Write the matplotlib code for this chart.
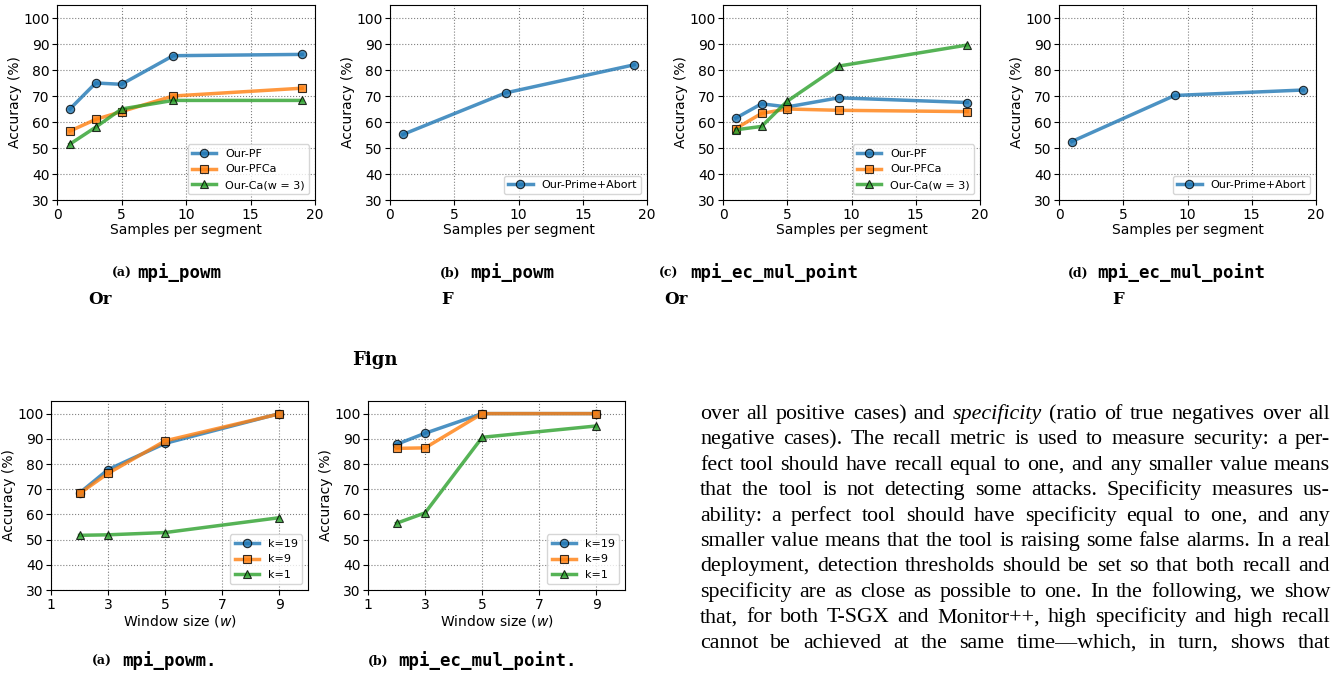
import matplotlib
matplotlib.use("Agg")
import matplotlib.pyplot as plt

# top row: samples per segment
samples = [1, 3, 5, 9, 19]
samples_pa = [1, 9, 19]

powm_pf = [65, 75, 74.5, 85.5, 86]
powm_pfca = [56.5, 61, 64, 70, 73]
powm_ca = [51.5, 58, 65, 68.3, 68.3]
powm_pa = [55.2, 71.2, 82]

ec_pf = [61.5, 67, 65.8, 69.3, 67.5]
ec_pfca = [57.5, 63.3, 65, 64.5, 64]
ec_ca = [57, 58.3, 68, 81.5, 89.6]
ec_pa = [52.5, 70.2, 72.3]

# bottom row: window size
windows = [2, 3, 5, 9]
win_powm_k19 = [68.5, 77.8, 88.2, 100]
win_powm_k9 = [68.3, 76.3, 89.2, 99.9]
win_powm_k1 = [51.7, 51.9, 52.8, 58.7]
win_ec_k19 = [87.8, 92.2, 100, 100]
win_ec_k9 = [86.2, 86.4, 100, 100]
win_ec_k1 = [56.5, 60.6, 90.6, 95.1]

body_lines = [
    "over all positive cases) and |specificity| (ratio of true negatives over all",
    "negative cases). The recall metric is used to measure security: a per-",
    "fect tool should have recall equal to one, and any smaller value means",
    "that the tool is not detecting some attacks. Specificity measures us-",
    "ability: a perfect tool should have specificity equal to one, and any",
    "smaller value means that the tool is raising some false alarms. In a real",
    "deployment, detection thresholds should be set so that both recall and",
    "specificity are as close as possible to one. In the following, we show",
    "that, for both T-SGX and Monitor++, high specificity and high recall",
    "cannot be achieved at the same time\u2014which, in turn, shows that",
]

W, H = 1335, 677
fig = plt.figure(figsize=(W / 100, H / 100), dpi=100)


def box(x0, x1, ytop, ybot):
    return [x0 / W, 1 - ybot / H, (x1 - x0) / W, (ybot - ytop) / H]


def style(ax):
    ax.grid(True, linestyle=':', color='gray', linewidth=0.8)
    ax.set_axisbelow(True)
    ax.tick_params(labelsize=10, length=3.5, pad=2)
    ax.set_ylabel("Accuracy (%)", fontsize=10, labelpad=1)
    ax.set_ylim(30, 105)
    ax.set_yticks(range(30, 101, 10))


def line(ax, x, y, c, m, lab):
    ax.plot(x, y, color=c, marker=m, markersize=6, linewidth=2.5, alpha=0.8,
            markeredgecolor='black', markeredgewidth=0.8, label=lab)


blue, orange, green = '#1f77b4', '#ff7f0e', '#2ca02c'

axs = [fig.add_axes(box(57, 315, 5, 200)), fig.add_axes(box(390, 647, 5, 200)),
       fig.add_axes(box(723, 980, 5, 200)), fig.add_axes(box(1059, 1316, 5, 200))]

line(axs[0], samples, powm_pf, blue, 'o', 'Our-PF')
line(axs[0], samples, powm_pfca, orange, 's', 'Our-PFCa')
line(axs[0], samples, powm_ca, green, '^', 'Our-Ca(w = 3)')
line(axs[1], samples_pa, powm_pa, blue, 'o', 'Our-Prime+Abort')
line(axs[2], samples, ec_pf, blue, 'o', 'Our-PF')
line(axs[2], samples, ec_pfca, orange, 's', 'Our-PFCa')
line(axs[2], samples, ec_ca, green, '^', 'Our-Ca(w = 3)')
line(axs[3], samples_pa, ec_pa, blue, 'o', 'Our-Prime+Abort')
for ax in axs:
    style(ax)
    ax.set_xlim(0, 20)
    ax.set_xticks([0, 5, 10, 15, 20])
    ax.set_xlabel("Samples per segment", fontsize=10, labelpad=1)
    ax.legend(loc='lower right', fontsize=8, handlelength=2.2)

bx = [fig.add_axes(box(51, 308, 401, 590)), fig.add_axes(box(368, 625, 401, 590))]
line(bx[0], windows, win_powm_k19, blue, 'o', 'k=19')
line(bx[0], windows, win_powm_k9, orange, 's', 'k=9')
line(bx[0], windows, win_powm_k1, green, '^', 'k=1')
line(bx[1], windows, win_ec_k19, blue, 'o', 'k=19')
line(bx[1], windows, win_ec_k9, orange, 's', 'k=9')
line(bx[1], windows, win_ec_k1, green, '^', 'k=1')
for ax in bx:
    style(ax)
    ax.set_xlim(1, 10)
    ax.set_xticks([1, 3, 5, 7, 9])
    ax.set_xlabel("Window size ($w$)", fontsize=10, labelpad=1)
    ax.legend(loc='lower right', fontsize=8, handlelength=2.2)


def px(x, y):
    return x / W, 1 - y / H


def blob(x, y, s, size=11):
    # the broken sub-caption labels of the scanned page
    fig.text(*px(x, y), s, fontsize=size, family='DejaVu Serif',
             weight='bold', ha='left', va='center')


mono = dict(family='DejaVu Sans Mono', weight='bold', fontsize=12.5, va='center', ha='left')
caps = [(112, 137, 'a', 'mpi_powm', 88, 'Or'), (440, 470, 'b', 'mpi_powm', 441, 'F'),
        (659, 690, 'c', 'mpi_ec_mul_point', 664, 'Or'),
        (1068, 1097, 'd', 'mpi_ec_mul_point', 1112, 'F')]
for gx, tx, letter, name, bxp, junk in caps:
    blob(gx, 273, '(' + letter + ')', size=9)
    fig.text(*px(tx, 273), name, **mono)
    blob(bxp, 300, junk, size=12)
blob(352, 360, 'Fign', size=13)

blob(92, 661, '(a)', size=9)
fig.text(*px(122, 661), 'mpi_powm.', **mono)
blob(368, 661, '(b)', size=9)
fig.text(*px(398, 661), 'mpi_ec_mul_point.', **mono)

# justified body text, font sized so the widest line just fills the column
fig.canvas.draw()
r = fig.canvas.get_renderer()
x0, width = 700, 630


def measure(size):
    out = []
    for ln in body_lines:
        t = fig.text(0, 0, ln.replace('|', ''), family='Liberation Serif', fontsize=size)
        out.append(t.get_window_extent(r).width)
        t.remove()
    return out


size = 10 * width / max(measure(10)) * 0.99
serif = dict(family='Liberation Serif', fontsize=size, va='baseline', ha='left')
for i, ln in enumerate(body_lines):
    yb = 419 + i * 25.4
    items = []
    for w in ln.split(' '):
        ital = w.startswith('|')
        t = fig.text(0, 0, w.strip('|'), style='italic' if ital else 'normal', **serif)
        items.append((t, t.get_window_extent(r).width))
    gap = (width - sum(wd for _, wd in items)) / (len(items) - 1)
    x = x0
    for t, wd in items:
        t.set_position(px(x, yb))
        x += wd + gap

fig.savefig("out.png", dpi=100)
